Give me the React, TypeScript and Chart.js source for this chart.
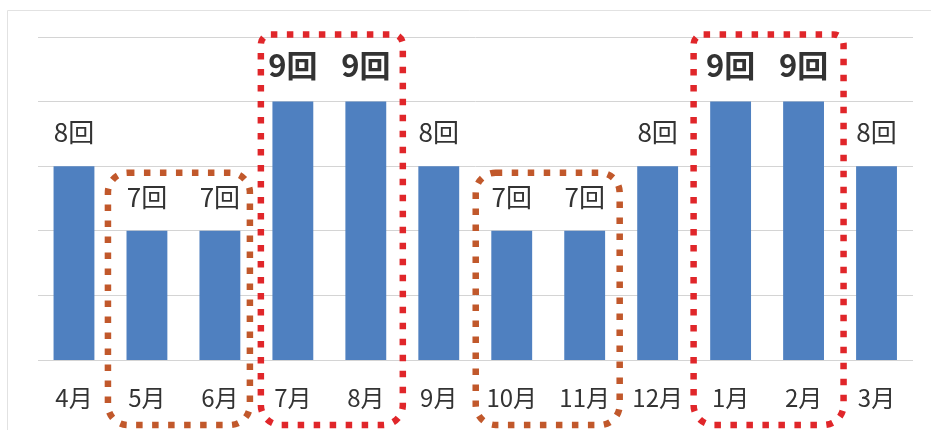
import React, { useEffect, useRef } from "react";
import { Chart, registerables } from "chart.js";

Chart.register(...registerables);

const months = ["4月", "5月", "6月", "7月", "8月", "9月", "10月", "11月", "12月", "1月", "2月", "3月"];
const counts = [8, 7, 7, 9, 9, 8, 7, 7, 8, 9, 9, 8];
const unitSuffix = "回";
const axisMin = 5;
const axisMax = 10;
// highlighted month pairs (start index, end index)
const brownPairs = [
  [1, 2],
  [6, 7],
];
const redPairs = [
  [3, 4],
  [9, 10],
];

const FONT = "'Noto Sans CJK JP', 'Noto Sans', sans-serif";

const boxStyles = {
  brown: { color: "#c1582b", topValue: 7.9, radius: 20, offsets: [[-39, 30], [-36, 35]] },
  red: { color: "#e0262a", topValue: 10.04, radius: 10, offsets: [[-32, 37], [-37, 40]] },
};

const decorPlugin = {
  id: "decor",
  beforeDraw(chart: any) {
    const ctx = chart.ctx;
    ctx.save();
    ctx.fillStyle = "#ffffff";
    ctx.fillRect(0, 0, chart.width, chart.height);
    ctx.strokeStyle = "#e2e2e2";
    ctx.lineWidth = 1;
    ctx.beginPath();
    ctx.moveTo(7.5, chart.height);
    ctx.lineTo(7.5, 10.5);
    ctx.lineTo(chart.width, 10.5);
    ctx.stroke();
    ctx.restore();
  },
  afterDatasetsDraw(chart: any) {
    const ctx = chart.ctx;
    const meta = chart.getDatasetMeta(0);
    ctx.save();
    ctx.textAlign = "center";
    ctx.textBaseline = "middle";
    ctx.fillStyle = "#333333";
    meta.data.forEach((bar: any, i: number) => {
      const v = counts[i];
      const big = v === 9;
      ctx.font = big ? `bold 31px ${FONT}` : `26px ${FONT}`;
      ctx.fillText(`${v}${unitSuffix}`, bar.x, bar.y - (big ? 36 : 34));
    });
    ctx.restore();
  },
  afterDraw(chart: any) {
    const ctx = chart.ctx;
    const xs = chart.scales.x;
    const ys = chart.scales.y;
    const bottom = chart.chartArea.bottom + 65;
    const drawGroup = (pairs: number[][], st: any) => {
      pairs.forEach((p, k) => {
        const [ol, or] = st.offsets[k];
        const left = xs.getPixelForValue(p[0]) + ol;
        const right = xs.getPixelForValue(p[1]) + or;
        const top = ys.getPixelForValue(st.topValue);
        ctx.save();
        ctx.strokeStyle = st.color;
        ctx.lineWidth = 6.5;
        ctx.lineCap = "butt";
        ctx.setLineDash([6.5, 9.5]);
        ctx.beginPath();
        ctx.roundRect(left, top, right - left, bottom - top, [st.radius, st.radius, 20, 20]);
        ctx.stroke();
        ctx.restore();
      });
    };
    drawGroup(brownPairs, boxStyles.brown);
    drawGroup(redPairs, boxStyles.red);
  },
};

export default function App() {
  const ref = useRef<HTMLCanvasElement | null>(null);
  useEffect(() => {
    if (!ref.current) return;
    const chart = new Chart(ref.current, {
      type: "bar",
      data: {
        labels: months,
        datasets: [
          {
            data: counts,
            backgroundColor: "#4f80c0",
            borderWidth: 0,
            barPercentage: 0.56,
            categoryPercentage: 1,
          },
        ],
      },
      options: {
        animation: false,
        responsive: false,
        maintainAspectRatio: false,
        layout: { padding: { left: 37.5, right: 18, top: 37, bottom: 0 } },
        plugins: { legend: { display: false }, tooltip: { enabled: false } },
        scales: {
          x: {
            grid: { display: false, drawTicks: false },
            border: { display: false },
            ticks: { color: "#333333", font: { family: FONT, size: 24 }, padding: 23 },
            afterFit(scale: any) {
              scale.height = 70;
            },
          },
          y: {
            min: axisMin,
            max: axisMax,
            ticks: { display: false, stepSize: 1 },
            grid: { color: "#d4d4d4", lineWidth: 1, drawTicks: false },
            border: { display: false },
            afterFit(scale: any) {
              scale.width = 0;
            },
          },
        },
      },
      plugins: [decorPlugin],
    });
    return () => chart.destroy();
  }, []);
  return (
    <div style={{ position: "fixed", left: 0, top: 0, width: 931, height: 430, background: "#fff" }}>
      <canvas ref={ref} width={931} height={430} style={{ width: 931, height: 430, display: "block" }} />
    </div>
  );
}
